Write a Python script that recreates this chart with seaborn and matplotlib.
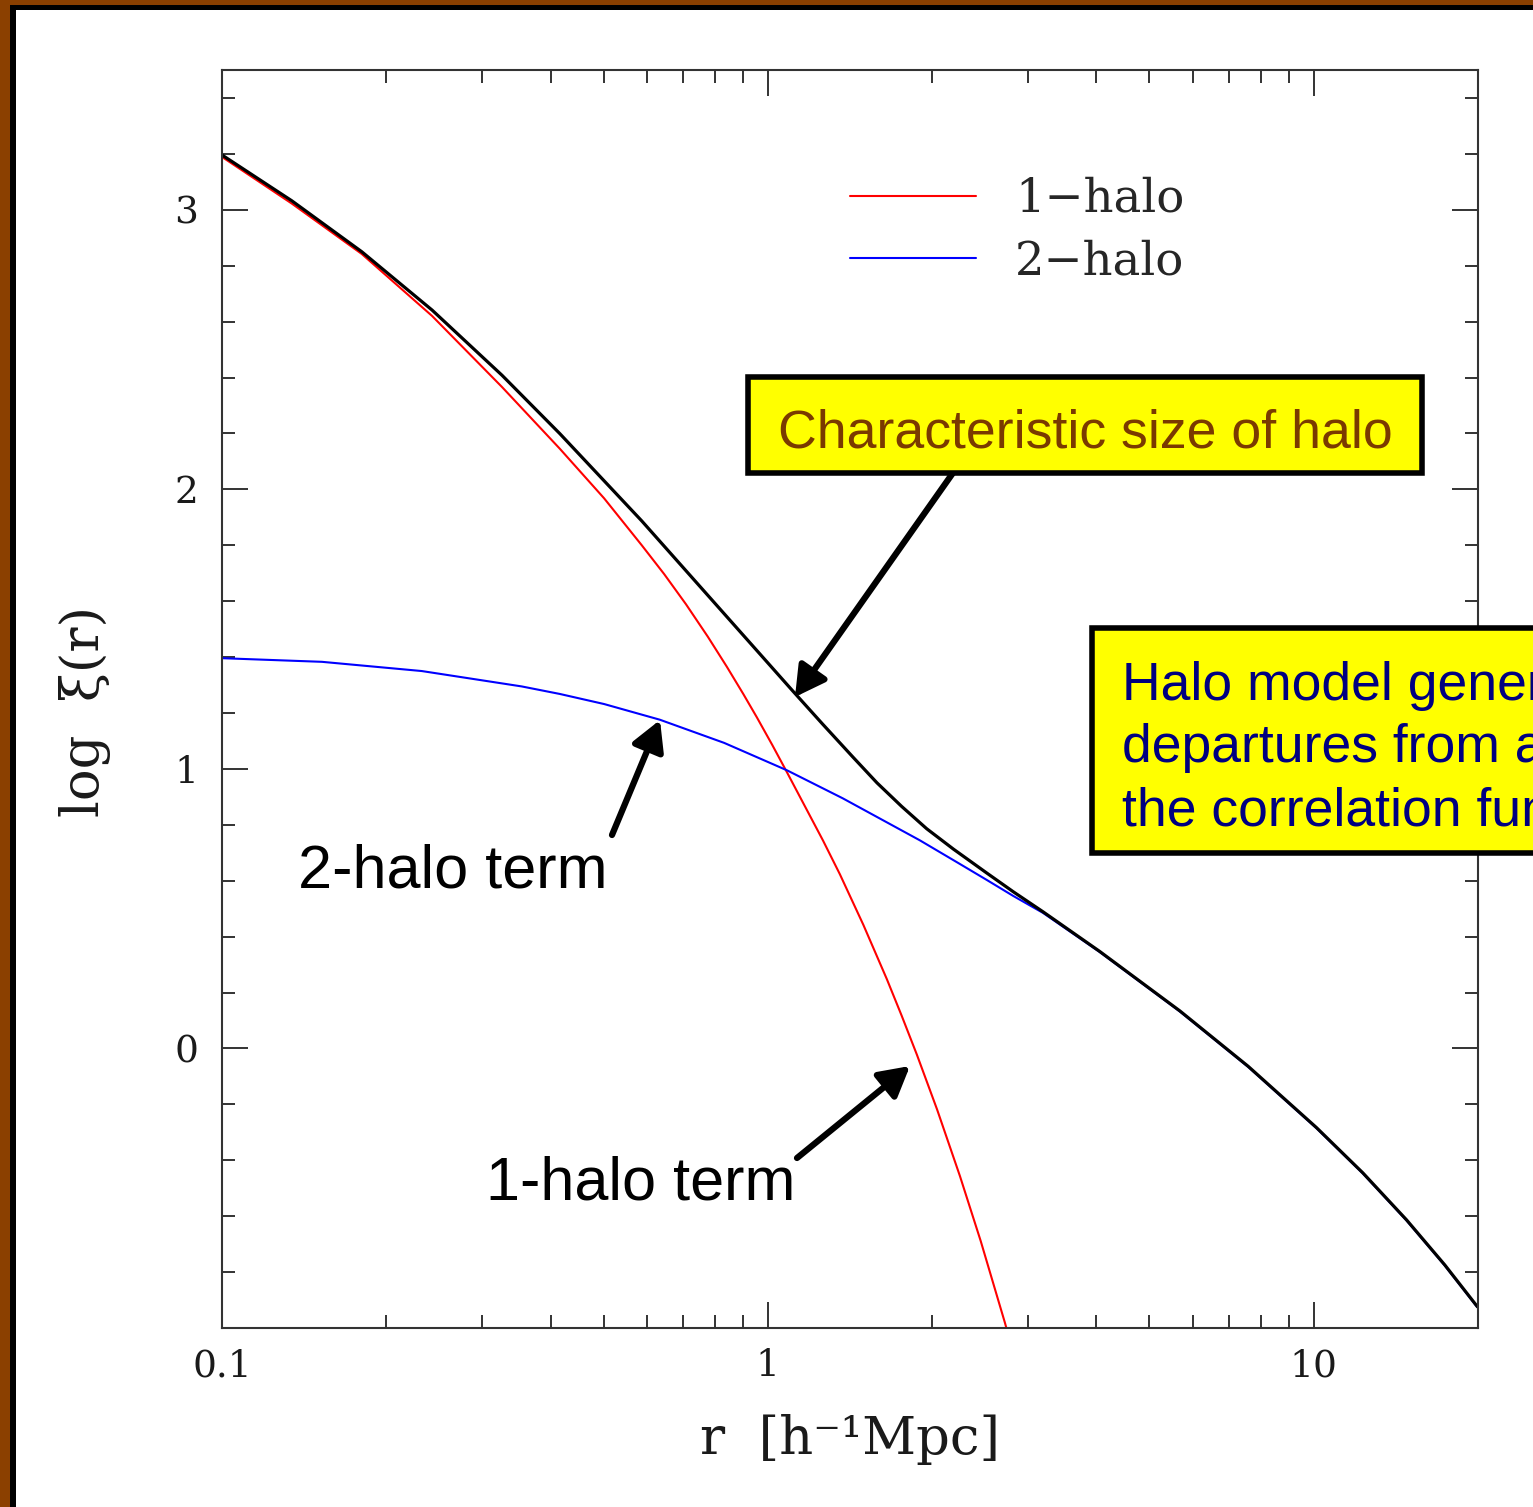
import numpy as np
import pandas as pd
import matplotlib
matplotlib.use("Agg")
import matplotlib.pyplot as plt
from matplotlib.patches import Rectangle
from matplotlib.ticker import FixedLocator, MultipleLocator, NullFormatter
import seaborn as sns

# ---- halo-model correlation function (log10 r, log10 xi) ----
log_r_total = [-1.000, -0.872, -0.744, -0.615, -0.487, -0.381, -0.231, -0.100,
               0.046, 0.100, 0.156, 0.200, 0.245, 0.291, 0.340, 0.400,
               0.450, 0.504, 0.608, 0.755, 0.880, 1.005, 1.090, 1.170,
               1.240, 1.300]
log_xi_total = [3.196, 3.032, 2.850, 2.641, 2.408, 2.199, 1.887, 1.599,
                1.278, 1.161, 1.042, 0.950, 0.866, 0.786, 0.713, 0.629,
                0.560, 0.489, 0.347, 0.134, -0.064, -0.283, -0.445, -0.613,
                -0.774, -0.924]

log_r_1h = [-1.000, -0.872, -0.744, -0.615, -0.487, -0.381, -0.300, -0.231,
            -0.190, -0.150, -0.110, -0.075, -0.045, -0.020, 0.008, 0.035,
            0.101, 0.132, 0.175, 0.218, 0.245, 0.273, 0.310, 0.352,
            0.390, 0.434, 0.460]
log_xi_1h = [3.189, 3.022, 2.842, 2.620, 2.366, 2.145, 1.968, 1.800,
             1.697, 1.589, 1.473, 1.365, 1.268, 1.184, 1.086, 0.988,
             0.744, 0.623, 0.442, 0.248, 0.118, -0.022, -0.218, -0.457,
             -0.689, -0.979, -1.160]

log_r_2h = [-1.000, -0.817, -0.634, -0.451, -0.381, -0.300, -0.198, -0.080,
            0.035, 0.137, 0.278, 0.350, 0.400, 0.450, 0.504, 0.608,
            0.755, 0.880, 1.005, 1.090, 1.170, 1.240, 1.300]
log_xi_2h = [1.396, 1.383, 1.350, 1.295, 1.268, 1.232, 1.176, 1.093,
             0.995, 0.895, 0.745, 0.662, 0.604, 0.545, 0.485, 0.345,
             0.132, -0.066, -0.285, -0.447, -0.615, -0.776, -0.926]

term_labels = ["1\u2212halo", "2\u2212halo"]
term_colors = ["red", "blue"]
x_ticks = [0.1, 1, 10]
x_tick_labels = ["0.1", "1", "10"]
y_ticks = [0, 1, 2, 3]
y_tick_labels = ["0", "1", "2", "3"]

terms = pd.concat([
    pd.DataFrame({"r": 10 ** np.asarray(log_r_1h), "logxi": log_xi_1h, "term": term_labels[0]}),
    pd.DataFrame({"r": 10 ** np.asarray(log_r_2h), "logxi": log_xi_2h, "term": term_labels[1]}),
], ignore_index=True)
total = pd.DataFrame({"r": 10 ** np.asarray(log_r_total), "logxi": log_xi_total})

sns.set_theme(style="ticks")
plt.rcParams["font.family"] = ["DejaVu Serif"]

W, H = 1533, 1507
fig = plt.figure(figsize=(W / 100, H / 100), dpi=100)
fig.patch.set_facecolor("white")
ax = fig.add_axes([222 / W, 1 - 1328 / H, (1478 - 222) / W, (1328 - 70) / H])
ax.set_facecolor("white")

sns.lineplot(data=terms, x="r", y="logxi", hue="term", hue_order=term_labels,
             palette=dict(zip(term_labels, term_colors)), estimator=None, sort=False,
             linewidth=1.5, ax=ax)
sns.lineplot(data=total, x="r", y="logxi", color="black", estimator=None, sort=False,
             linewidth=2.3, legend=False, ax=ax)
for ln in ax.lines:
    ln.set_solid_joinstyle("round")

ax.set_xscale("log")
ax.set_xlim(0.1, 20)
ax.set_ylim(-1, 3.5)

ax.xaxis.set_major_locator(FixedLocator(x_ticks))
ax.set_xticklabels(x_tick_labels)
ax.xaxis.set_minor_locator(FixedLocator([m * d for d in (0.1, 1, 10) for m in range(2, 10)]))
ax.xaxis.set_minor_formatter(NullFormatter())
ax.yaxis.set_major_locator(FixedLocator(y_ticks))
ax.set_yticklabels(y_tick_labels)
ax.yaxis.set_minor_locator(MultipleLocator(0.2))

ax.tick_params(which="both", direction="in", top=True, right=True, color="#333333", width=1.4)
ax.tick_params(which="major", length=19, labelsize=27, labelcolor="#1a1a1a")
ax.tick_params(axis="x", which="major", pad=14.5)
ax.tick_params(axis="y", which="major", pad=17)
ax.tick_params(which="minor", length=9.5)
for s in ax.spines.values():
    s.set_color("#333333")
    s.set_linewidth(1.5)

ax.set_xlabel("r  [h\u207b\u00b9Mpc]", fontsize=38, color="#1a1a1a")
ax.set_ylabel("log  \u03be(r)", fontsize=38, color="#1a1a1a")
ax.xaxis.set_label_coords(0.5, -0.068)
ax.yaxis.set_label_coords(-0.088, 0.49)

handles, labels = ax.get_legend_handles_labels()
ax.legend(handles, labels, loc="center left", bbox_to_anchor=(0.5, 0.8725),
          frameon=False, fontsize=33.5, handlelength=2.7, handletextpad=0.85,
          labelspacing=0.37, borderpad=0, borderaxespad=0)


def fxy(px, py):
    return px / W, 1 - py / H


# brown slide frame on the left and top
fig.patches.append(Rectangle((0, 0), 10 / W, 1, transform=fig.transFigure,
                             facecolor="#8B4000", edgecolor="none", zorder=5))
fig.patches.append(Rectangle((0, 1 - 5 / H), 1, 5 / H, transform=fig.transFigure,
                             facecolor="#8B4000", edgecolor="none", zorder=5))
fig.patches.append(Rectangle((10 / W, 0), 6 / W, 1 - 5 / H, transform=fig.transFigure,
                             facecolor="black", edgecolor="none", zorder=5))
fig.patches.append(Rectangle((10 / W, 1 - 10 / H), 1, 5 / H, transform=fig.transFigure,
                             facecolor="black", edgecolor="none", zorder=5))

# callout boxes
x0, y0 = fxy(748, 473)
fig.patches.append(Rectangle((x0, y0), (1422 - 748) / W, (473 - 377) / H,
                             transform=fig.transFigure, facecolor="#FFFF00",
                             edgecolor="black", linewidth=4, zorder=2))
fig.text(*fxy(1085, 447), "Characteristic size of halo", ha="center", va="baseline",
         fontsize=38.6, color="#7A3A00", family=["Liberation Sans"], zorder=4)

x0, y0 = fxy(1092, 853)
fig.patches.append(Rectangle((x0, y0), (1600 - 1092) / W, (853 - 628) / H,
                             transform=fig.transFigure, facecolor="#FFFF00",
                             edgecolor="black", linewidth=4, zorder=2))
for line, base in zip(["Halo model generates", "departures from a power law in",
                       "the correlation function"], [700, 762, 825]):
    fig.text(*fxy(1122, base), line, ha="left", va="baseline", fontsize=38.5,
             color="#000080", family=["Liberation Sans"], zorder=4)

fig.text(*fxy(298, 888), "2-halo term", ha="left", va="baseline", fontsize=44,
         color="black", family=["Liberation Sans"], zorder=4)
fig.text(*fxy(486, 1200), "1-halo term", ha="left", va="baseline", fontsize=44,
         color="black", family=["Liberation Sans"], zorder=4)

arrow = dict(arrowstyle="-|>,head_length=0.45,head_width=0.25", color="black",
             lw=4.5, mutation_scale=40, shrinkA=0, shrinkB=0)
for head, tail in [((795, 697), (955, 470)), ((660, 720), (612, 835)),
                   ((910, 1066), (797, 1158))]:
    ax.annotate("", xy=fxy(*head), xycoords="figure fraction",
                xytext=fxy(*tail), textcoords="figure fraction",
                arrowprops=arrow, annotation_clip=False)

fig.savefig("out.png", dpi=100, facecolor="white")
